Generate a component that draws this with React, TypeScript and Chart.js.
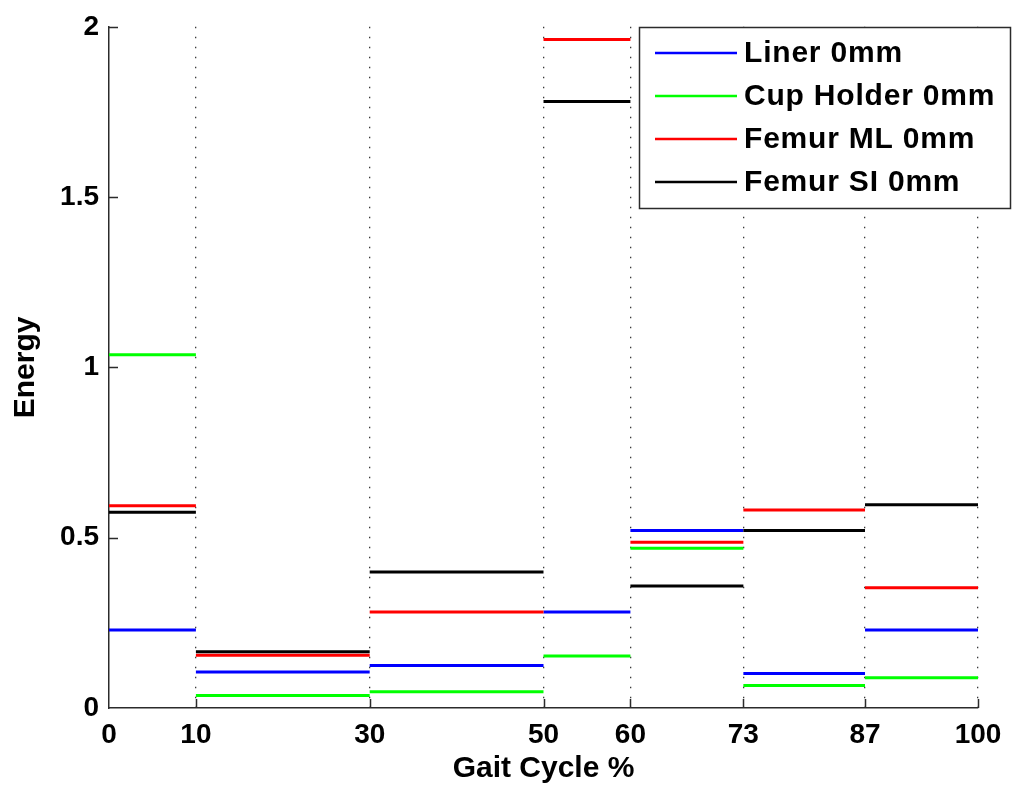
import React, { useEffect, useRef } from "react";
import { Chart, registerables } from "chart.js";

Chart.register(...registerables);

// Interval boundaries of the gait cycle (%), also the x tick values
const boundaries = [0, 10, 30, 50, 60, 73, 87, 100];
const yTickValues = [0, 0.5, 1, 1.5, 2];
const yTickLabels = ["0", "0.5", "1", "1.5", "2"];

const seriesLabels = ["Liner 0mm", "Cup Holder 0mm", "Femur ML 0mm", "Femur SI 0mm"];
const seriesColors = ["#0000FF", "#00FF00", "#FF0000", "#000000"];

// Energy per interval (one value per gait-cycle interval)
const linerValues = [0.229, 0.106, 0.125, 0.282, 0.521, 0.101, 0.229];
const cupHolderValues = [1.037, 0.037, 0.048, 0.153, 0.469, 0.066, 0.089];
const femurMLValues = [0.594, 0.155, 0.282, 1.963, 0.487, 0.581, 0.353];
const femurSIValues = [0.575, 0.165, 0.399, 1.781, 0.358, 0.521, 0.597];

const FONT = "'Liberation Sans', Arial, Helvetica, sans-serif";
const AXIS_COLOR = "#2b2b2b";

function stepPoints(values: number[]) {
  const pts: { x: number; y: number | null }[] = [];
  values.forEach((v, i) => {
    pts.push({ x: boundaries[i], y: v });
    pts.push({ x: boundaries[i + 1], y: v });
    if (i < values.length - 1) pts.push({ x: boundaries[i + 1], y: null });
  });
  return pts;
}

const inwardTicks = {
  id: "inwardTicks",
  afterDraw(chart: any) {
    const { ctx, chartArea, scales } = chart;
    ctx.save();
    ctx.strokeStyle = AXIS_COLOR;
    ctx.lineWidth = 1.5;
    ctx.beginPath();
    scales.x.ticks.forEach((t: any) => {
      if (t.value === 0) return;
      const px = Math.round(scales.x.getPixelForValue(t.value)) + 0.5;
      ctx.moveTo(px, chartArea.bottom);
      ctx.lineTo(px, chartArea.bottom - 9);
    });
    scales.y.ticks.forEach((t: any) => {
      if (t.value === 0) return;
      const py = Math.round(scales.y.getPixelForValue(t.value)) + 0.5;
      ctx.moveTo(chartArea.left, py);
      ctx.lineTo(chartArea.left + 9, py);
    });
    ctx.stroke();
    ctx.restore();
  },
};

const boxLegend = {
  id: "boxLegend",
  afterDraw(chart: any) {
    const { ctx } = chart;
    const left = 639.5;
    const top = 27.5;
    const right = 1010.5;
    const bottom = 208.5;
    ctx.save();
    ctx.fillStyle = "#ffffff";
    ctx.fillRect(left, top, right - left, bottom - top);
    ctx.strokeStyle = AXIS_COLOR;
    ctx.lineWidth = 1.5;
    ctx.strokeRect(left, top, right - left, bottom - top);
    const rows = [53, 96, 139, 182];
    chart.data.datasets.forEach((ds: any, i: number) => {
      const y = rows[i];
      ctx.strokeStyle = ds.borderColor;
      ctx.lineWidth = 2.5;
      ctx.beginPath();
      ctx.moveTo(655, y);
      ctx.lineTo(737, y);
      ctx.stroke();
      ctx.fillStyle = "#000000";
      ctx.font = `bold 30px ${FONT}`;
      (ctx as any).letterSpacing = "0.8px";
      ctx.textBaseline = "middle";
      ctx.textAlign = "left";
      ctx.fillText(ds.label, 744, y + 1);
    });
    ctx.restore();
  },
};

export default function App() {
  const canvasRef = useRef<HTMLCanvasElement | null>(null);

  useEffect(() => {
    if (!canvasRef.current) return;
    const allValues = [linerValues, cupHolderValues, femurMLValues, femurSIValues];
    const chart = new Chart(canvasRef.current, {
      type: "line",
      data: {
        datasets: allValues.map((vals, i) => ({
          label: seriesLabels[i],
          data: stepPoints(vals),
          borderColor: seriesColors[i],
          backgroundColor: seriesColors[i],
          borderWidth: 3,
          pointRadius: 0,
          pointHoverRadius: 0,
          spanGaps: false,
          tension: 0,
          order: allValues.length - i,
        })),
      },
      options: {
        animation: false,
        responsive: false,
        maintainAspectRatio: false,
        events: [],
        layout: { padding: { top: 24, right: 35, bottom: 0, left: 0 } },
        plugins: {
          legend: { display: false },
          tooltip: { enabled: false },
        },
        scales: {
          x: {
            type: "linear",
            min: 0,
            max: 100,
            afterBuildTicks: (scale: any) => {
              scale.ticks = boundaries.map((v) => ({ value: v }));
            },
            afterFit: (scale: any) => {
              scale.height = 84;
            },
            grid: {
              display: true,
              drawTicks: false,
              drawOnChartArea: true,
              color: (c: any) => (c.tick && c.tick.value === 0 ? "rgba(0,0,0,0)" : "#3a3a3a"),
              lineWidth: 1.3,
            },
            border: { display: true, color: AXIS_COLOR, width: 1.5, dash: [1.5, 8.5] },
            ticks: {
              autoSkip: false,
              maxRotation: 0,
              padding: 10,
              color: "#000000",
              font: { family: FONT, size: 28, weight: "bold" },
              callback: (v: any) => String(v),
            },
            title: {
              display: true,
              text: "Gait Cycle %",
              color: "#000000",
              font: { family: FONT, size: 30, weight: "bold" },
              padding: { top: 0, bottom: 5 },
            },
          },
          y: {
            type: "linear",
            min: 0,
            max: 2,
            afterBuildTicks: (scale: any) => {
              scale.ticks = yTickValues.map((v) => ({ value: v }));
            },
            afterFit: (scale: any) => {
              scale.width = 109;
            },
            grid: { display: false, drawTicks: false },
            border: { display: true, color: AXIS_COLOR, width: 1.5 },
            ticks: {
              padding: 10,
              color: "#000000",
              font: { family: FONT, size: 28, weight: "bold" },
              callback: (v: any) => {
                const idx = yTickValues.indexOf(Number(v));
                return idx >= 0 ? yTickLabels[idx] : String(v);
              },
            },
            title: {
              display: true,
              text: "Energy",
              color: "#000000",
              font: { family: FONT, size: 30, weight: "bold" },
              padding: { top: 8, bottom: 0 },
            },
          },
        },
      },
      plugins: [inwardTicks, boxLegend],
    });
    return () => chart.destroy();
  }, []);

  return (
    <div
      style={{
        position: "fixed",
        left: 0,
        top: 0,
        width: 1013,
        height: 792,
        background: "#ffffff",
      }}
    >
      <canvas ref={canvasRef} width={1013} height={792} style={{ width: 1013, height: 792, display: "block" }} />
    </div>
  );
}
